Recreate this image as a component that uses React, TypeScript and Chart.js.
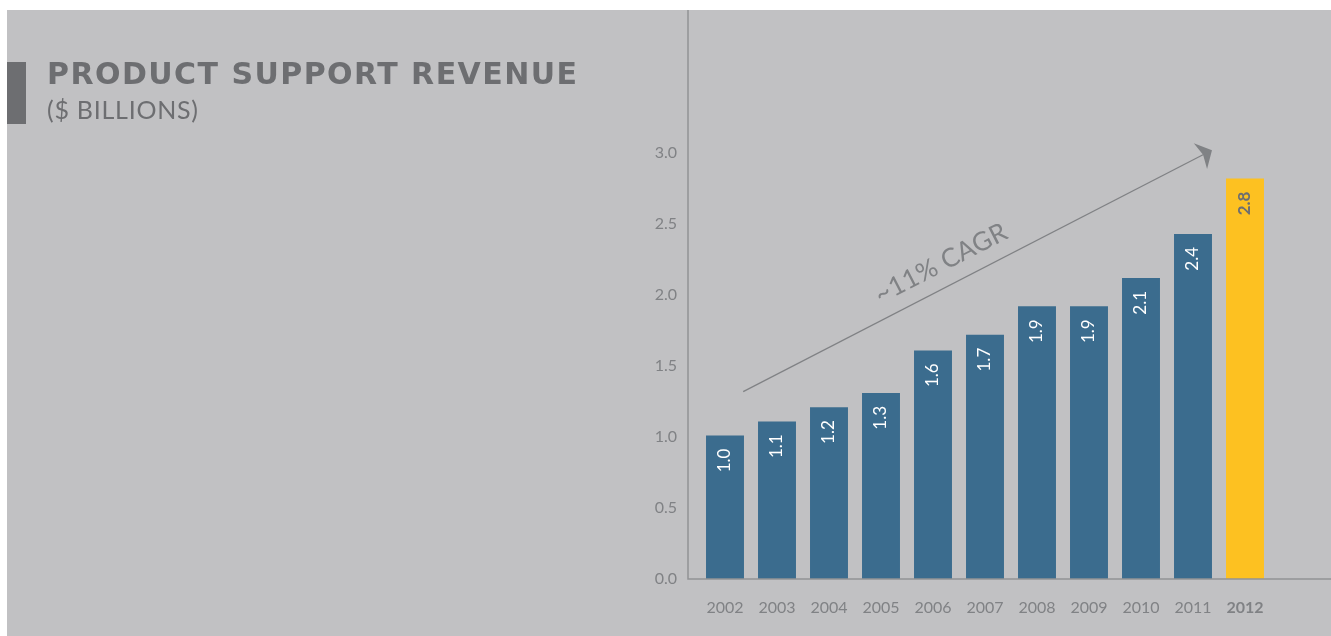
import React, { useEffect, useRef } from "react";
import { Chart, registerables } from "chart.js";

Chart.register(...registerables);

const years = ["2002", "2003", "2004", "2005", "2006", "2007", "2008", "2009", "2010", "2011", "2012"];
const revenue = [1.01, 1.11, 1.21, 1.31, 1.61, 1.72, 1.92, 1.92, 2.12, 2.43, 2.82];
const valueLabels = ["1.0", "1.1", "1.2", "1.3", "1.6", "1.7", "1.9", "1.9", "2.1", "2.4", "2.8"];
const yTickMin = 0;
const yTickMax = 3;
const yTickStep = 0.5;
const highlightYear = "2012";
const arrowStart = { x: 0.35, y: 1.32 };
const arrowEnd = { x: 9.365, y: 3.02 };
const cagrLabel = "~11% CAGR";
const titleText = "PRODUCT SUPPORT REVENUE";
const subtitleText = "($ BILLIONS)";

const BG = "#c1c1c3";
const BLUE = "#3b6c8e";
const YELLOW = "#fdc121";
const DARK = "#6d6e71";
const MID = "#808285";
const AXIS = "#919295";
const FONT = "Lato, 'Open Sans', sans-serif";
const TITLE_FONT = "'DejaVu Sans', Lato, sans-serif";

function fitText(ctx: CanvasRenderingContext2D, text: string, width: number) {
  (ctx as any).letterSpacing = "0px";
  const w = ctx.measureText(text).width;
  const sp = (width - w) / Math.max(1, text.length - 1);
  (ctx as any).letterSpacing = sp.toFixed(2) + "px";
}

const decor = {
  id: "decor",
  beforeDraw(chart: any) {
    const ctx = chart.ctx as CanvasRenderingContext2D;
    ctx.save();
    ctx.fillStyle = "#ffffff";
    ctx.fillRect(0, 0, chart.width, chart.height);
    ctx.fillStyle = BG;
    ctx.fillRect(7, 10, chart.width - 7, chart.height - 10);
    ctx.fillStyle = DARK;
    ctx.fillRect(7, 62, 19, 62);
    ctx.textBaseline = "alphabetic";
    ctx.textAlign = "left";
    ctx.font = `700 30px ${TITLE_FONT}`;
    fitText(ctx, titleText, 530);
    ctx.fillText(titleText, 47, 84);
    ctx.font = `400 25px ${FONT}`;
    fitText(ctx, subtitleText, 151);
    ctx.fillText(subtitleText, 47, 119);
    (ctx as any).letterSpacing = "0px";
    ctx.restore();
  },
  afterDraw(chart: any) {
    const ctx = chart.ctx as CanvasRenderingContext2D;
    const xs = chart.scales.x;
    const ys = chart.scales.y;
    const area = chart.chartArea;
    ctx.save();
    // axis lines
    ctx.strokeStyle = AXIS;
    ctx.lineWidth = 1.5;
    const ax = area.left - 11;
    ctx.beginPath();
    ctx.moveTo(ax, 10);
    ctx.lineTo(ax, area.bottom);
    ctx.lineTo(chart.width, area.bottom);
    ctx.stroke();

    // value labels inside bars
    const meta = chart.getDatasetMeta(0);
    meta.data.forEach((bar: any, i: number) => {
      const hl = years[i] === highlightYear;
      ctx.save();
      ctx.translate(bar.x, bar.y + 13);
      ctx.rotate(-Math.PI / 2);
      ctx.textAlign = "right";
      ctx.textBaseline = "middle";
      ctx.fillStyle = hl ? DARK : "#ffffff";
      ctx.font = `${hl ? 700 : 400} 17px ${FONT}`;
      ctx.fillText(valueLabels[i], 0, 0);
      ctx.restore();
    });

    // arrow
    const x1 = xs.getPixelForValue(arrowStart.x);
    const y1 = ys.getPixelForValue(arrowStart.y);
    const x2 = xs.getPixelForValue(arrowEnd.x);
    const y2 = ys.getPixelForValue(arrowEnd.y);
    const ang = Math.atan2(y2 - y1, x2 - x1);
    ctx.strokeStyle = MID;
    ctx.fillStyle = MID;
    ctx.lineWidth = 1.3;
    ctx.beginPath();
    ctx.moveTo(x1, y1);
    ctx.lineTo(x2 - Math.cos(ang) * 9, y2 - Math.sin(ang) * 9);
    ctx.stroke();
    ctx.save();
    ctx.translate(x2, y2);
    ctx.rotate(ang);
    ctx.beginPath();
    ctx.moveTo(0, 0);
    ctx.lineTo(-13, -14.5);
    ctx.lineTo(-10, 0);
    ctx.lineTo(-13, 14.5);
    ctx.closePath();
    ctx.fill();
    ctx.restore();

    // CAGR label
    const t = 0.445;
    const mx = x1 + (x2 - x1) * t;
    const my = y1 + (y2 - y1) * t;
    ctx.save();
    ctx.translate(mx, my);
    ctx.rotate(ang);
    ctx.textAlign = "center";
    ctx.textBaseline = "alphabetic";
    ctx.font = `400 26px ${FONT}`;
    fitText(ctx, cagrLabel, 145);
    ctx.fillStyle = MID;
    ctx.fillText(cagrLabel, 0, -15);
    (ctx as any).letterSpacing = "0px";
    ctx.restore();
    ctx.restore();
  },
};

export default function App() {
  const ref = useRef<HTMLCanvasElement | null>(null);
  useEffect(() => {
    if (!ref.current) return;
    const chart = new Chart(ref.current, {
      type: "bar",
      data: {
        labels: years,
        datasets: [
          {
            data: revenue,
            backgroundColor: years.map((y) => (y === highlightYear ? YELLOW : BLUE)),
            borderWidth: 0,
            barPercentage: 0.73,
            categoryPercentage: 1,
          },
        ],
      },
      options: {
        animation: false,
        responsive: false,
        devicePixelRatio: 1,
        layout: { padding: { left: 600, right: 60, top: 153, bottom: 0 } },
        plugins: { legend: { display: false }, tooltip: { enabled: false } },
        scales: {
          x: {
            grid: { display: false, drawTicks: false },
            border: { display: false },
            ticks: {
              padding: 19,
              color: MID,
              font: (c: any) => ({
                family: FONT,
                size: 16,
                weight: years[c.index] === highlightYear ? "bold" : "normal",
              }),
            },
            afterFit: (s: any) => {
              s.height = 57;
            },
          },
          y: {
            min: yTickMin,
            max: yTickMax,
            grid: { display: false, drawTicks: false },
            border: { display: false },
            ticks: {
              stepSize: yTickStep,
              padding: 22,
              color: MID,
              font: { family: FONT, size: 16 },
              callback: (v: any) => Number(v).toFixed(1),
            },
            afterFit: (s: any) => {
              s.width = 99;
            },
          },
        },
      },
      plugins: [decor],
    });
    return () => chart.destroy();
  }, []);
  return (
    <div style={{ position: "fixed", left: 0, top: 0, width: 1331, height: 636 }}>
      <canvas ref={ref} width={1331} height={636} style={{ display: "block", width: 1331, height: 636 }} />
    </div>
  );
}
